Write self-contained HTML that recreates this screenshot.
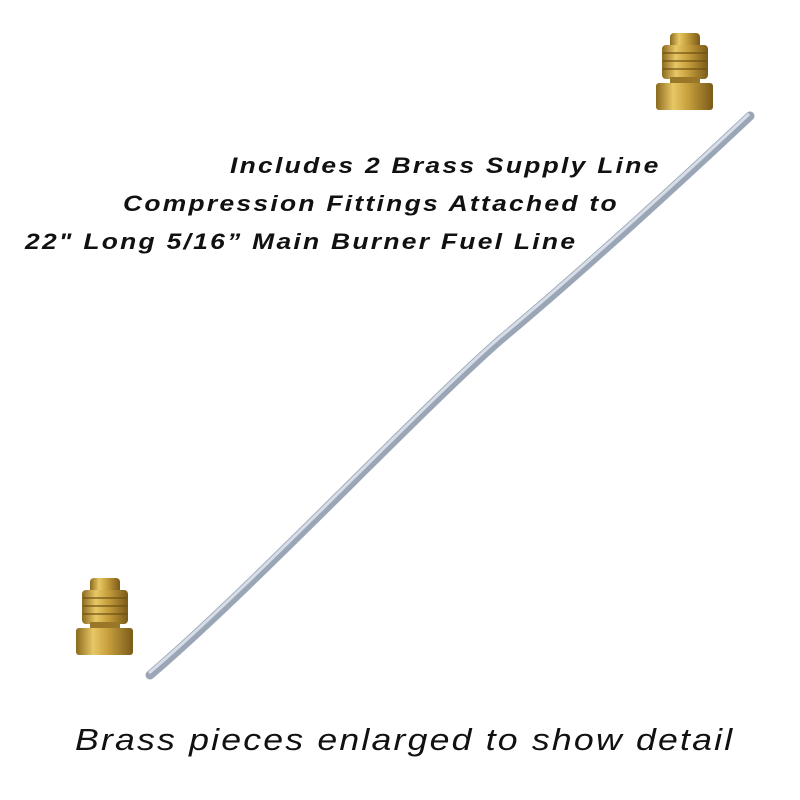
<!DOCTYPE html>
<html><head><style>
body{margin:0;width:800px;height:800px;background:#fff;overflow:hidden;position:relative;font-family:"Liberation Sans",sans-serif}
.t{position:absolute;font-weight:bold;font-style:italic;font-size:22px;letter-spacing:1.9px;white-space:nowrap;color:#111;transform:scaleX(1.2);transform-origin:0 0}
.c{position:absolute;font-style:italic;font-size:31px;letter-spacing:1.9px;white-space:nowrap;color:#111;left:75px;top:722px;transform:scaleX(1.15);transform-origin:0 0}
</style></head><body>
<svg width="800" height="800" style="position:absolute;left:0;top:0">
<defs>
<linearGradient id="b" x1="0" x2="1" y1="0" y2="0">
<stop offset="0" stop-color="#8a6a1e"/><stop offset=".3" stop-color="#e8c766"/><stop offset=".55" stop-color="#c9a13e"/><stop offset="1" stop-color="#7a5a18"/></linearGradient>
<g id="f">
<rect x="14" y="0" width="30" height="16" rx="4" fill="url(#b)"/>
<rect x="6" y="12" width="46" height="34" rx="4" fill="url(#b)"/>
<g stroke="#6b4e12" stroke-width="2" opacity=".6"><line x1="7" y1="20" x2="51" y2="20"/><line x1="7" y1="28" x2="51" y2="28"/><line x1="7" y1="36" x2="51" y2="36"/></g>
<rect x="14" y="44" width="30" height="8" fill="#9a7628"/>
<rect x="0" y="50" width="57" height="27" rx="3" fill="url(#b)"/>
</g>
</defs>
<path d="M750 116 C650 210 560 290 500 340 C420 410 250 590 150 675" stroke="#9aa6b6" stroke-width="9" fill="none" stroke-linecap="round"/>
<path d="M750 116 C650 210 560 290 500 340 C420 410 250 590 150 675" stroke="#d8dee8" stroke-width="3" fill="none" transform="translate(-1,-2)"/>
<use href="#f" x="656" y="33"/>
<use href="#f" x="76" y="578"/>
</svg>
<div class="t" style="left:230px;top:153px">Includes 2 Brass Supply Line</div>
<div class="t" style="left:123px;top:191px">Compression Fittings Attached to</div>
<div class="t" style="left:25px;top:229px">22" Long 5/16” Main Burner Fuel Line</div>
<div class="c">Brass pieces enlarged to show detail</div>
</body></html>
